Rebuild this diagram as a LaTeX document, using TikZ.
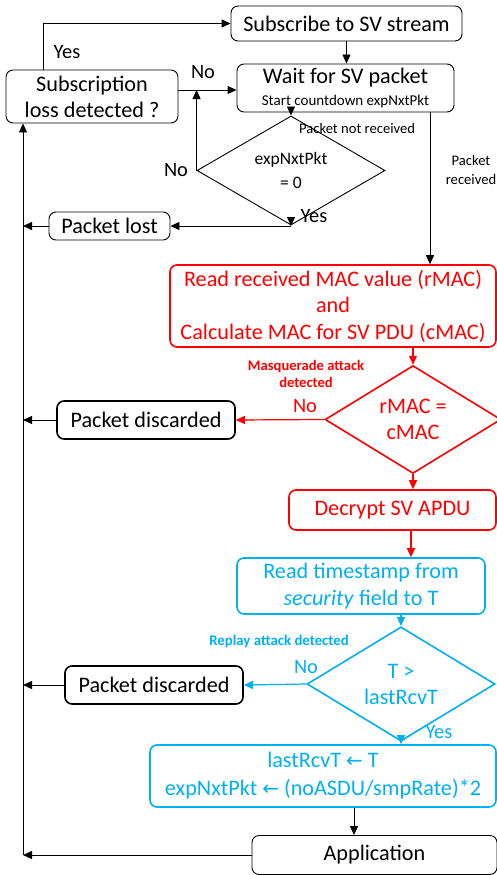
\documentclass[tikz,border=0pt]{standalone}
\usepackage{fontspec}
\setmainfont{Carlito}
\newfontfamily\arrowfont{DejaVu Sans}
\newcommand\myleftarr{{\arrowfont\fontsize{20}{20}\selectfont ←}}
\usetikzlibrary{shapes.geometric,arrows.meta}
\definecolor{myred}{RGB}{255,0,0}
\definecolor{myblue}{RGB}{0,176,240}
\tikzset{
  box/.style={draw, rounded corners=7pt, align=center, inner sep=0pt, line width=0.9pt, font=\fontsize{22.2}{26.5}\selectfont},
  thickbox/.style={box, line width=1.6pt},
  redbox/.style={box, draw=myred, text=myred, line width=1.6pt},
  bluebox/.style={box, draw=myblue, text=myblue, line width=1.6pt},
  dia/.style={draw, diamond, inner sep=0pt, align=center, line width=0.9pt, font=\fontsize{17.5}{24}\selectfont},
  arr/.style={-{Triangle[length=9pt,width=8pt]}, line width=0.9pt},
  lbl/.style={font=\fontsize{20.4}{24}\selectfont, inner sep=0pt},
  small/.style={font=\fontsize{14.6}{19}\selectfont, inner sep=0pt, align=center},
}
\begin{document}
\begin{tikzpicture}[x=1pt,y=-1pt]
\useasboundingbox (0,0) rectangle (497,875);
\fill[white] (0,0) rectangle (497,875);
\coordinate (L) at (23,0);
\coordinate (yx) at (43,0);
\coordinate (ny) at (0,90);
\coordinate (px) at (430,0);
\coordinate (dx) at (411,0);
\coordinate (ax) at (354,0);

\node[box, minimum width=231pt, minimum height=35pt] (sub) at (346.5,23.5) {Subscribe to SV stream};
\node[box, minimum width=217pt, minimum height=48pt] (wait) at (345.5,88) {Wait for SV packet\\[-4pt]{\fontsize{15}{17}\selectfont Start countdown expNxtPkt}};
\node[box, minimum width=172pt, minimum height=53pt] (loss) at (92,96.5) {Subscription\\[-0.5pt]loss detected ?};
\node[dia, minimum width=188pt, minimum height=55pt] (d1) at (291,170.5) {expNxtPkt\\= 0};
\node[box, minimum width=121pt, minimum height=28pt] (lost) at (109.5,226) {Packet lost};
\node[redbox, minimum width=326pt, minimum height=82pt] (rmac) at (333,306) {Read received MAC value (rMAC)\\and\\Calculate MAC for SV PDU (cMAC)};
\node[dia, draw=myred, text=myred, line width=1.6pt, minimum width=176pt, minimum height=91pt, font=\fontsize{22.2}{26}\selectfont] (d2) at (413,419.5) {rMAC =\\cMAC};
\node[thickbox, minimum width=178pt, minimum height=38pt] (disc1) at (146,420) {Packet discarded};
\node[redbox, minimum width=207pt, minimum height=40pt] (dec) at (392.5,510) {Decrypt SV APDU};
\node[bluebox, minimum width=248pt, minimum height=56pt] (ts) at (361,586) {Read timestamp from\\[0.5pt]\textit{security} field to T};
\node[dia, draw=myblue, text=myblue, line width=1.6pt, minimum width=188pt, minimum height=76pt, font=\fontsize{22.2}{26}\selectfont] (d3) at (401,684) {T >\\lastRcvT};
\node[thickbox, minimum width=178pt, minimum height=38pt] (disc2) at (154,685) {Packet discarded};
\node[bluebox, minimum width=346pt, minimum height=62pt] (upd) at (323,776) {lastRcvT \myleftarr{} T\\[1.5pt]expNxtPkt \myleftarr{} (noASDU/smpRate)*2};
\node[box, minimum width=245pt, minimum height=39pt] (app) at (374.5,855) {Application};

% labels
\node[lbl] (lyes1) at (67,52) {Yes};
\node[lbl] (lno1) at (203,72) {No};
\node[small, anchor=west] (lnr) at (299,128) {Packet not received};
\node[lbl] (lno2) at (176,170) {No};
\node[lbl] (lyes2) at (314,216) {Yes};
\node[small] (lpr) at (471,170) {Packet\\received};
\node[small, text=myred, font=\bfseries\fontsize{14.6}{17.5}\selectfont] (lmas) at (306,374) {Masquerade attack\\detected};
\node[lbl, text=myred] (lno3) at (305,406) {No};
\node[small, text=myblue, font=\bfseries\fontsize{14.8}{17}\selectfont] (lrep) at (279,641) {Replay attack detected};
\node[lbl, text=myblue] (lno4) at (306,667) {No};
\node[lbl, text=myblue] (lyes3) at (439,732) {Yes};

% connectors
\draw[arr] (sub.south) -- (sub.south |- wait.north);
\draw[arr] (loss.north -| yx) |- (sub.west);
\draw[arr] (loss.east |- ny) -- (wait.west |- ny);
\draw[arr] (d1.north |- wait.south) -- (d1.north);
\draw[arr] (d1.west) -| (d1.west |- ny);
\coordinate (c1) at (d1.south |- lost.east);
\draw[arr] (d1.south) -- (c1);
\draw[arr] (c1) -- (lost.east);
\draw[arr] (lost.west) -- (lost.west -| L);
\draw[arr] (wait.south -| px) -- (rmac.north -| px);
\draw[arr, draw=myred, fill=myred, line width=1.2pt] (rmac.south -| d2.north) -- (d2.north);
\draw[arr, draw=myred, fill=myred, line width=1.2pt] (d2.west) -- (disc1.east);
\draw[arr] (disc1.west) -- (disc1.west -| L);
\draw[arr, draw=myred, fill=myred, line width=1.2pt] (d2.south) -- (d2.south |- dec.north);
\draw[arr, draw=myred, fill=myred, line width=1.2pt] (dec.south -| dx) -- (ts.north -| dx);
\draw[arr, draw=myblue, fill=myblue, line width=1.2pt] (d3.north |- ts.south) -- (d3.north);
\draw[arr, draw=myblue, fill=myblue, line width=1.2pt] (d3.west) -- (disc2.east);
\draw[arr] (disc2.west) -- (disc2.west -| L);
\draw[arr, draw=myblue, fill=myblue, line width=1.2pt] (d3.south) -- (d3.south |- upd.north);
\draw[arr] (upd.south -| ax) -- (app.north -| ax);
\draw[arr] (app.west) -- (app.west -| L);
\draw[arr] (app.west -| L) -- (loss.south -| L);
\end{tikzpicture}
\end{document}
